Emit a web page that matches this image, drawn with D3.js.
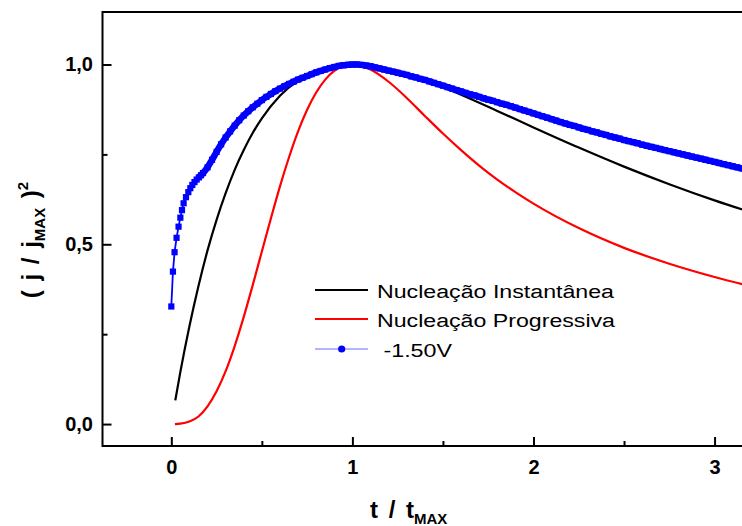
<!DOCTYPE html>
<html>
<head>
<meta charset="utf-8">
<script src="https://cdn.jsdelivr.net/npm/d3@7"></script>
<style>
  html, body { margin: 0; padding: 0; background: #fff; }
  svg { display: block; }
  text { font-family: "Liberation Sans", Arial, sans-serif; }
</style>
</head>
<body>
<svg id="chart" width="742" height="526"></svg>
<script>
// ---------------- data ----------------
const xMajorTicks = [0, 1, 2, 3];
const xMinorTicks = [0.5, 1.5, 2.5];
const yMajorTicks = [0, 0.5, 1.0];
const yMinorTicks = [0.25, 0.75];
const yTickLabels = ["0,0", "0,5", "1,0"];
const xTickLabels = ["0", "1", "2", "3"];

const seriesNames = ["Nucleação Instantânea", "Nucleação Progressiva", " -1.50V"];

// Instantaneous nucleation curve
const blackT = [0.022,0.05,0.1,0.15,0.2,0.25,0.3,0.35,0.4,0.45,0.5,0.6,0.7,0.8,0.9,1.0,1.1,1.2,1.4,1.6,1.8,2.0,2.25,2.5,2.75,3.0,3.25];
const blackV = [0.066,0.145,0.272,0.384,0.483,0.568,0.642,0.707,0.762,0.810,0.850,0.913,0.955,0.982,0.996,1.000,0.997,0.987,0.957,0.916,0.871,0.825,0.769,0.716,0.667,0.622,0.581];

// Progressive nucleation curve
const redT = [0.02,0.05,0.1,0.15,0.2,0.25,0.3,0.35,0.4,0.45,0.5,0.55,0.6,0.65,0.7,0.75,0.8,0.85,0.9,0.95,1.0,1.05,1.1,1.2,1.3,1.4,1.5,1.6,1.7,1.8,1.9,2.0,2.25,2.5,2.75,3.0,3.25];
const redV = [0.000,0.001,0.007,0.021,0.049,0.091,0.147,0.217,0.298,0.387,0.480,0.572,0.661,0.742,0.814,0.874,0.922,0.958,0.982,0.996,1.000,0.996,0.986,0.952,0.907,0.857,0.808,0.762,0.719,0.680,0.645,0.613,0.545,0.490,0.446,0.409,0.377];

// Experimental -1.50V
const blueT = [0,0.009,0.018,0.029,0.040,0.050,0.059,0.068,0.081,0.094,0.105,0.116,0.128,0.140,0.152,0.164,0.175,
  0.200,0.225,0.250,0.275,0.300,0.325,0.350,0.375,0.400,0.425,0.450,0.475,0.500,0.525,0.550,0.575,0.600,0.625,0.650,0.675,
  0.700,0.725,0.750,0.775,0.800,0.825,0.850,0.875,0.900,0.925,0.950,0.975,1.000,1.025,1.050,1.075,1.100,1.125,1.150,1.175,
  1.200,1.225,1.250,1.275,1.300,1.325,1.350,1.375,1.400,1.425,1.450,1.475,1.500,1.525,1.550,1.575,1.600,1.625,1.650,1.675,
  1.700,1.725,1.750,1.775,1.800,1.825,1.850,1.875,1.900,1.925,1.950,1.975,2.000,2.025,2.050,2.075,2.100,2.125,2.150,2.175,
  2.200,2.225,2.250,2.275,2.300,2.325,2.350,2.375,2.400,2.425,2.450,2.475,2.500,2.525,2.550,2.575,2.600,2.625,2.650,2.675,
  2.700,2.725,2.750,2.775,2.800,2.825,2.850,2.875,2.900,2.925,2.950,2.975,3.000,3.025,3.050,3.075,3.100,3.125,3.150,3.175,3.200];
const blueV = [0.327,0.424,0.478,0.518,0.549,0.574,0.595,0.614,0.631,0.645,0.656,0.665,0.673,0.680,0.686,0.692,0.698,
  0.714,0.735,0.757,0.778,0.797,0.814,0.830,0.845,0.858,0.870,0.881,0.891,0.901,0.910,0.918,0.926,0.933,0.940,0.946,0.952,
  0.958,0.963,0.968,0.973,0.978,0.982,0.986,0.990,0.993,0.996,0.998,0.999,1.000,1.000,0.999,0.997,0.995,0.992,0.989,0.986,
  0.983,0.980,0.977,0.974,0.971,0.967,0.964,0.960,0.957,0.953,0.949,0.945,0.941,0.937,0.933,0.929,0.925,0.921,0.917,0.914,
  0.910,0.906,0.902,0.899,0.895,0.891,0.888,0.884,0.880,0.876,0.872,0.868,0.864,0.860,0.856,0.852,0.848,0.844,0.840,0.836,
  0.832,0.829,0.825,0.821,0.818,0.814,0.811,0.807,0.804,0.800,0.797,0.794,0.790,0.787,0.784,0.781,0.777,0.774,0.771,0.768,
  0.765,0.762,0.759,0.756,0.753,0.750,0.747,0.744,0.741,0.738,0.735,0.732,0.729,0.726,0.723,0.720,0.717,0.714,0.711,0.708,0.705];

// ---------------- layout ----------------
const svg = d3.select("#chart");
const pLeft = 102.5, pTop = 12, pBottom = 446, pRight = 787;

const x = d3.scaleLinear().domain([-0.38, 3.4]).range([pLeft, pRight]);
const y = d3.scaleLinear().domain([-0.061, 1.146]).range([pBottom, pTop]);

const fontStack = '"Liberation Sans", Arial, sans-serif';

// clip
svg.append("defs").append("clipPath").attr("id", "plotClip")
  .append("rect").attr("x", pLeft).attr("y", pTop).attr("width", pRight - pLeft).attr("height", pBottom - pTop);

// ---------------- axes ----------------
const xAxisMajor = d3.axisBottom(x).tickValues(xMajorTicks)
  .tickFormat((d, i) => xTickLabels[i]).tickSizeInner(-9).tickSizeOuter(0).tickPadding(14);
const xAxisMinor = d3.axisBottom(x).tickValues(xMinorTicks)
  .tickFormat("").tickSizeInner(-5).tickSizeOuter(0);
const yAxisMajor = d3.axisLeft(y).tickValues(yMajorTicks)
  .tickFormat((d, i) => yTickLabels[i]).tickSizeInner(-9).tickSizeOuter(0).tickPadding(9.5);
const yAxisMinor = d3.axisLeft(y).tickValues(yMinorTicks)
  .tickFormat("").tickSizeInner(-5).tickSizeOuter(0);

function styleAxis(g) {
  g.select(".domain").remove();
  g.selectAll(".tick line").attr("stroke", "#000").attr("stroke-width", 2);
  g.selectAll(".tick text").attr("fill", "#000")
    .style("font-family", fontStack).style("font-weight", "bold").style("font-size", "20px");
}

svg.append("g").attr("transform", `translate(0,${pBottom})`).call(xAxisMajor).call(styleAxis);
svg.append("g").attr("transform", `translate(0,${pBottom})`).call(xAxisMinor).call(styleAxis);
svg.append("g").attr("transform", `translate(${pLeft},0)`).call(yAxisMajor).call(styleAxis);
svg.append("g").attr("transform", `translate(${pLeft},0)`).call(yAxisMinor).call(styleAxis);

// frame
svg.append("rect")
  .attr("x", pLeft).attr("y", pTop).attr("width", pRight - pLeft).attr("height", pBottom - pTop)
  .attr("fill", "none").attr("stroke", "#000").attr("stroke-width", 2);

// ---------------- series ----------------
const plot = svg.append("g").attr("clip-path", "url(#plotClip)");

const line = d3.line().x(d => x(d[0])).y(d => y(d[1])).curve(d3.curveMonotoneX);
const straight = d3.line().x(d => x(d[0])).y(d => y(d[1]));

const blackData = blackT.map((t, i) => [t, blackV[i]]);
const redData = redT.map((t, i) => [t, redV[i]]);
const blueData = blueT.map((t, i) => [t, blueV[i]]);

plot.append("path").datum(blackData).attr("d", line)
  .attr("fill", "none").attr("stroke", "#000").attr("stroke-width", 2.2);
plot.append("path").datum(redData).attr("d", line)
  .attr("fill", "none").attr("stroke", "#ff0000").attr("stroke-width", 2.2);

// thin connecting line through all points
plot.append("path").datum(blueData).attr("d", straight)
  .attr("fill", "none").attr("stroke", "#0000ff").attr("stroke-width", 1.8);
// densely sampled part: overlapping markers form a continuous band
plot.append("path").datum(blueData.filter(d => d[0] >= 0.15)).attr("d", line)
  .attr("fill", "none").attr("stroke", "#0000ff").attr("stroke-width", 6.5);
const sq = 6.2;
plot.selectAll("rect.pt").data(blueData).join("rect").attr("class", "pt")
  .attr("x", d => x(d[0]) - sq / 2).attr("y", d => y(d[1]) - sq / 2)
  .attr("width", sq).attr("height", sq).attr("fill", "#0000ff");

// ---------------- legend ----------------
const legend = svg.append("g");
const legRows = [
  { y: 290, color: "#000", w: 2.2, name: seriesNames[0], len: 237 },
  { y: 319, color: "#ff0000", w: 2.2, name: seriesNames[1], len: 238 },
  { y: 349, color: "#6b6bff", w: 1.2, name: seriesNames[2], len: 75, dot: true }
];
legRows.forEach(r => {
  legend.append("line").attr("x1", 315).attr("x2", 368).attr("y1", r.y).attr("y2", r.y)
    .attr("stroke", r.color).attr("stroke-width", r.w);
  if (r.dot) legend.append("circle").attr("cx", 341.7).attr("cy", r.y).attr("r", 3.6).attr("fill", "#0000ff");
  legend.append("text").attr("x", 377).attr("y", r.y + 8)
    .attr("xml:space", "preserve")
    .attr("textLength", r.len).attr("lengthAdjust", "spacingAndGlyphs")
    .style("font-size", "18.8px").style("font-family", fontStack).attr("fill", "#000")
    .text(r.name);
});

// ---------------- axis titles ----------------
const xt = svg.append("text").attr("x", 370).attr("y", 518)
  .style("font-family", fontStack).style("font-weight", "bold").style("font-size", "24px")
  .style("word-spacing", "4px").attr("fill", "#000");
xt.append("tspan").text("t / t");
xt.append("tspan").attr("dy", 6).style("font-size", "15px").text("MAX");

const yt = svg.append("text").attr("transform", "translate(39,240) rotate(-90)")
  .attr("text-anchor", "middle")
  .style("font-family", fontStack).style("font-weight", "bold").style("font-size", "24px")
  .style("word-spacing", "3px").attr("fill", "#000");
yt.append("tspan").text("( j / j");
yt.append("tspan").attr("dy", 6).style("font-size", "15px").text("MAX");
yt.append("tspan").attr("dy", -6).text(" )");
yt.append("tspan").attr("dy", -11).style("font-size", "15px").text("2");
</script>
</body>
</html>
